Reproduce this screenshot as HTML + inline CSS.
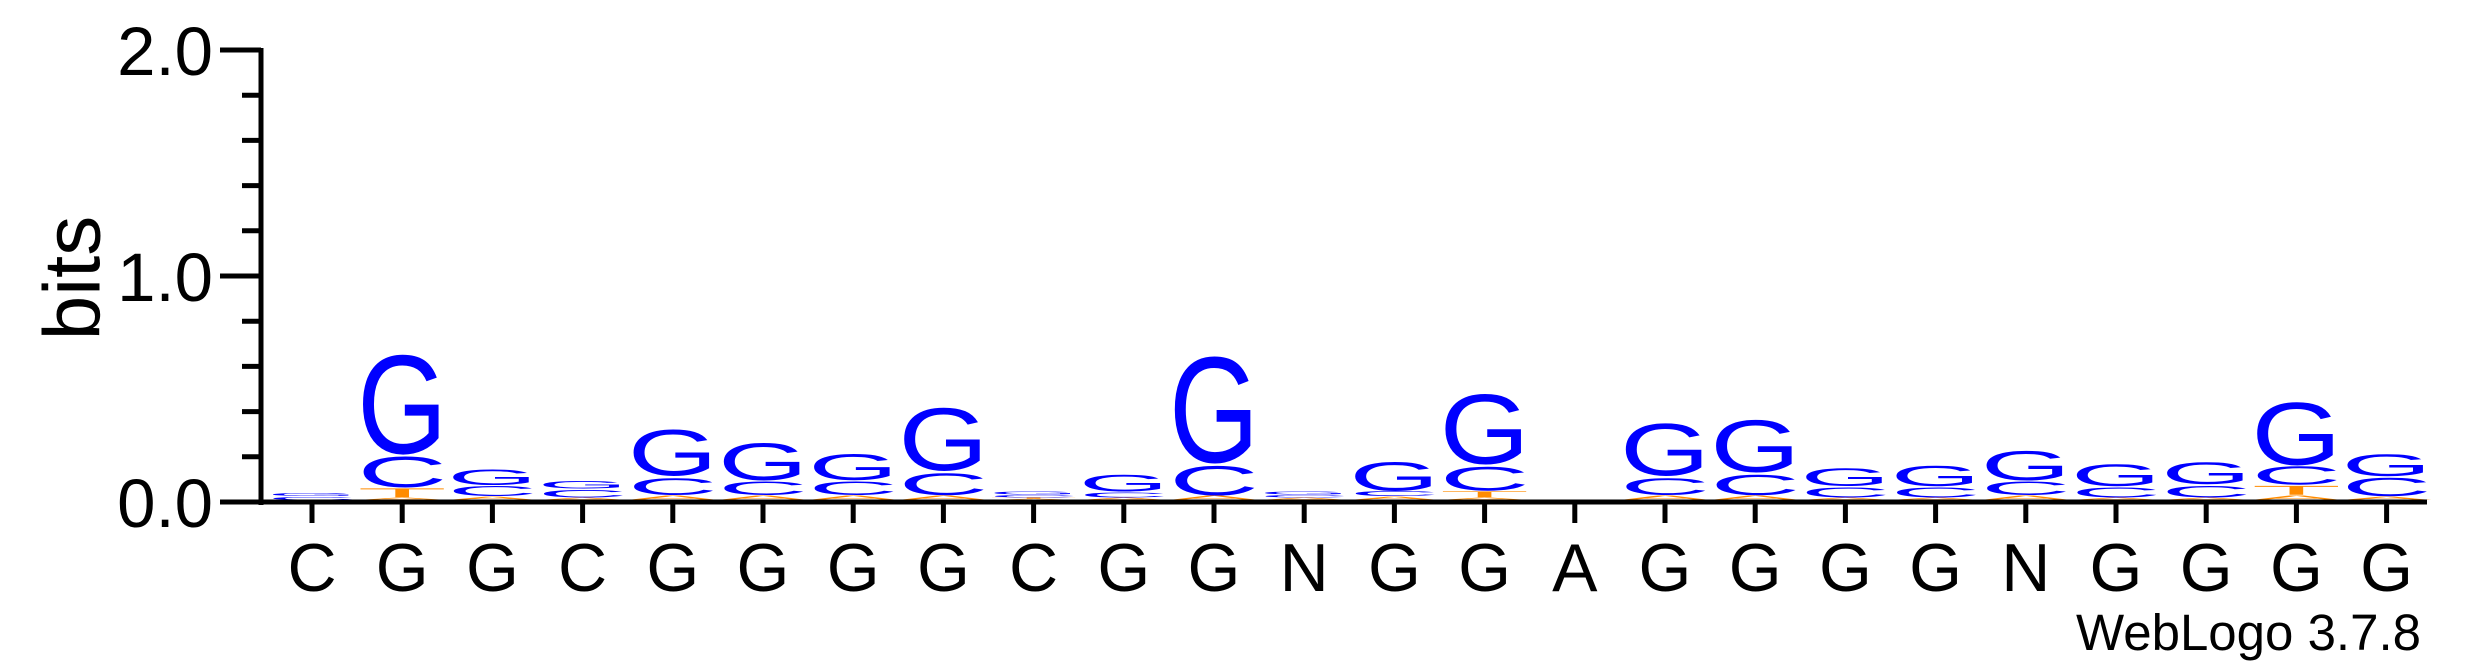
<!DOCTYPE html>
<html><head><meta charset="utf-8"><style>
html,body{margin:0;padding:0;background:#fff;}
svg{display:block;font-family:"Liberation Sans",sans-serif;}
</style></head><body>
<svg id="logo" width="2475" height="667" viewBox="0 0 2475 667" xmlns="http://www.w3.org/2000/svg">
<g id="marks"></g>
<g id="axes"></g>
<text x="72" y="278" font-size="80" text-anchor="middle" dominant-baseline="central" transform="rotate(-90 72 278)">bits</text>
<text x="2421" y="650" font-size="51" text-anchor="end">WebLogo 3.7.8</text>
</svg>
<script>
// Data
const positions = ["C","G","G","C","G","G","G","G","C","G","G","N","G","G","A","G","G","G","G","N","G","G","G","G"];
const bitsA = [0,0.012,0.017,0.012,0.023,0.023,0.023,0.023,0.006,0.012,0.023,0.012,0.017,0.012,0,0.023,0.023,0.012,0.012,0.023,0.012,0.012,0.023,0.017];
const bitsT = [0,0.045,0,0,0,0,0,0,0.006,0,0,0,0,0.03,0,0,0,0,0,0,0,0,0.045,0];
const bitsC = [0.017,0.15,0.05,0.038,0.085,0.066,0.066,0.11,0.012,0.025,0.145,0.012,0.025,0.12,0,0.085,0.1,0.05,0.05,0.066,0.05,0.058,0.09,0.09];
const bitsG = [0.017,0.49,0.077,0.038,0.23,0.185,0.13,0.31,0.017,0.082,0.525,0.017,0.14,0.345,0,0.258,0.258,0.088,0.1,0.146,0.108,0.108,0.31,0.108];
const yTicks = [0,0.2,0.4,0.6,0.8,1.0,1.2,1.4,1.6,1.8,2.0];
const yLabels = ["0.0","1.0","2.0"];

const NS="http://www.w3.org/2000/svg";
const X0=312, DX=90.2, Y0=500, PPB=226;
const xs = i => X0 + i*DX;
const ys = b => 502 - b*PPB;
const colors={A:"#ff8c00",T:"#ff8c00",C:"#0000ff",G:"#0000ff"};
const marks=document.getElementById('marks');
const axes=document.getElementById('axes');

positions.forEach((p,i)=>{
  const stack=[["A",bitsA[i]],["T",bitsT[i]],["C",bitsC[i]],["G",bitsG[i]]].filter(d=>d[1]>0).sort((a,b)=>a[1]-b[1]);
  let base=0;
  stack.forEach(([L,h])=>{
    const hp=h*PPB*0.93;
    const yb=Y0-base*PPB;
    const t=document.createElementNS(NS,'text');
    
    
    t.setAttribute('x',0);t.setAttribute('y',0);
    t.setAttribute('font-size',100);
    t.setAttribute('textLength',90);
    t.setAttribute('lengthAdjust','spacingAndGlyphs');
    t.setAttribute('fill',colors[L]);
    t.setAttribute('transform',`translate(${xs(i)-45},${yb}) scale(1,${hp/73})`);
    t.textContent=L;
    marks.appendChild(t);
    base+=h;
  });
});

function line(x1,y1,x2,y2,w,name){
  const l=document.createElementNS(NS,'line');
  
  
  l.setAttribute('x1',x1);l.setAttribute('y1',y1);l.setAttribute('x2',x2);l.setAttribute('y2',y2);
  l.setAttribute('stroke','#000');l.setAttribute('stroke-width',w);
  axes.appendChild(l);
}
line(261,48,261,505,5,'y-axis-line');
line(258,502,2427,502,5,'x-axis-line');
yTicks.forEach((v,k)=>{
  const major=(k%5===0);
  line(major?220:242,ys(v),261,ys(v),5,'y-tick');
});
yLabels.forEach((s,k)=>{
  const t=document.createElementNS(NS,'text');
  
  
  t.setAttribute('x',213);t.setAttribute('y',ys(k)+25);
  t.setAttribute('font-size',69);t.setAttribute('text-anchor','end');
  t.textContent=s;
  axes.appendChild(t);
});
positions.forEach((p,i)=>{
  line(xs(i),502,xs(i),523,5,'x-tick');
  const t=document.createElementNS(NS,'text');
  
  
  t.setAttribute('x',xs(i));t.setAttribute('y',591);
  t.setAttribute('font-size',68);t.setAttribute('text-anchor','middle');
  t.textContent=p;
  axes.appendChild(t);
});
</script>
</body></html>
